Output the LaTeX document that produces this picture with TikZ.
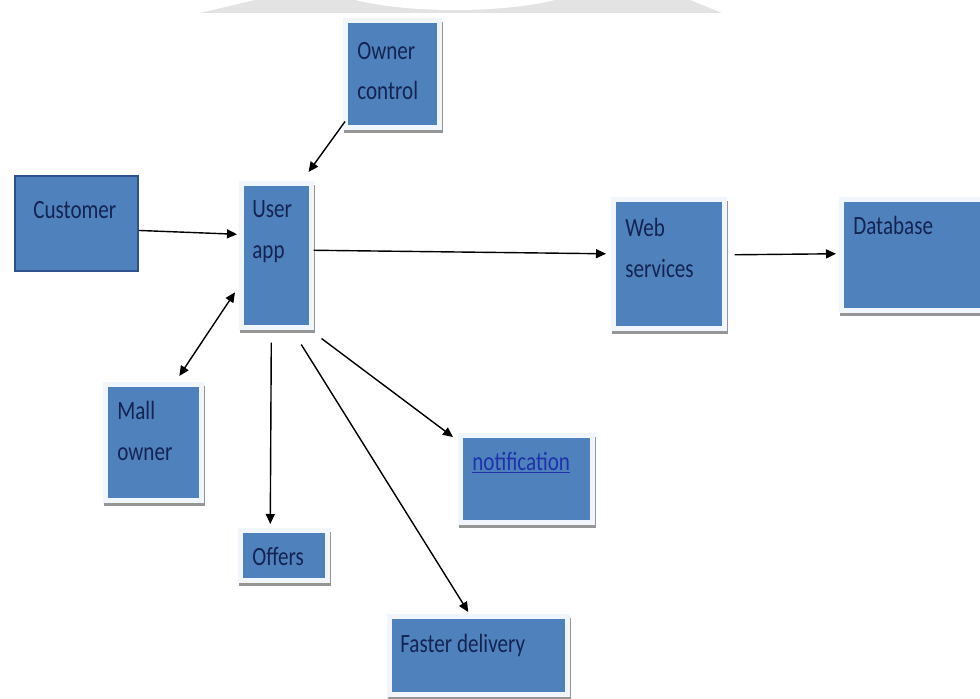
\documentclass[tikz,border=0pt]{standalone}
\usepackage{fontspec}
\setmainfont{Carlito}[FakeStretch=0.8]
\usetikzlibrary{arrows.meta,shadows}
\definecolor{boxblue}{RGB}{79,129,189}
\definecolor{boxline}{RGB}{47,82,143}
\definecolor{boxglow}{RGB}{240,246,252}
\definecolor{boxshade}{RGB}{150,150,150}
\definecolor{boxtext}{RGB}{20,36,82}
\definecolor{linkblue}{RGB}{30,50,170}

\begin{document}
\begin{tikzpicture}[
  x=0.02cm,y=-0.02cm,
  every node/.style={font=\fontsize{15}{23}\selectfont,text=boxtext},
  box/.style={rectangle,anchor=north west,inner sep=0pt,fill=boxblue,draw=boxglow,line width=2.6pt,
    general shadow={fill=boxshade,draw=boxshade,line width=2.6pt,shadow xshift=.8pt,shadow yshift=-2.2pt}},
  plainbox/.style={rectangle,anchor=north west,inner sep=0pt,fill=boxblue,draw=boxline,line width=1.1pt},
  txt/.style={anchor=base west,inner sep=0pt,align=left},
  arrow/.style={-{Triangle[length=2mm,width=1.8mm]},line width=.8pt,black},
  twoway/.style={{Triangle[length=2mm,width=1.8mm]}-{Triangle[length=2mm,width=1.8mm]},line width=.8pt,black}
]
\path[use as bounding box] (0,0) rectangle (980,699);
\fill[white] (0,0) rectangle (980,699);

% Faint watermark at the top edge.
\fill[gray!22] (200,13)--(255,0)--(690,0)--(722,13)--cycle;
\fill[white] (455,-18) ellipse (130 and 28);

% Boxes, placed at their top left corners.
\node[box,minimum width=1.88cm,minimum height=2.14cm] (owner) at (343,18) {};
\node[plainbox,minimum width=2.46cm,minimum height=1.90cm] (cust) at (14,175) {};
\node[box,minimum width=1.40cm,minimum height=2.88cm] (user) at (239,181) {};
\node[box,minimum width=2.22cm,minimum height=2.58cm] (web) at (611,197) {};
\node[box,minimum width=2.92cm,minimum height=2.22cm] (db) at (839,197) {};
\node[box,minimum width=1.92cm,minimum height=2.32cm] (mall) at (103,382) {};
\node[box,minimum width=1.74cm,minimum height=1.00cm] (offers) at (238,528) {};
\node[box,minimum width=2.64cm,minimum height=1.74cm] (notif) at (458,433) {};
\node[box,minimum width=3.56cm,minimum height=1.56cm] (faster) at (387,614) {};

% Texts sit near the top left of each box (base = last line).
\node[txt] (owner-t) at ([shift={(14,82)}]owner.north west) {Owner\\control};
\node[txt] (cust-t) at ([shift={(19,43)}]cust.north west) {Customer};
\node[txt] (user-t) at ([shift={(13,77)}]user.north west) {User\\app};
\node[txt] (web-t) at ([shift={(14,80)}]web.north west) {Web\\services};
\node[txt] (db-t) at ([shift={(14,38)}]db.north west) {Database};
\node[txt] (mall-t) at ([shift={(14,78)}]mall.north west) {Mall\\owner};
\node[txt] (offers-t) at ([shift={(14,37)}]offers.north west) {Offers};
\node[txt,text=linkblue] (notif-t) at ([shift={(14,37)}]notif.north west) {\underline{notification}};
\node[txt] (faster-t) at ([shift={(13,38)}]faster.north west) {Faster delivery};

% Connectors.
\draw[arrow] ([shift={(2,-8)}]owner.south west) -- ([shift={(-5,-9)}]user.north east);
\draw[arrow] ([shift={(0,7)}]cust.east) -- ([shift={(-2,-21)}]user.west);
\draw[twoway] ([shift={(26,-6)}]mall.north) -- ([shift={(-4,37)}]user.west);
\draw[arrow] ([shift={(0,-5)}]user.east) -- ([shift={(-5,-10)}]web.west);
\draw[arrow] ([shift={(8,-9)}]web.east) -- ([shift={(-3,-1)}]db.west);
\draw[arrow] ([shift={(-5,13)}]user.south) -- ([shift={(-13.5,-4)}]offers.north);
\draw[arrow] ([shift={(8,9)}]user.south east) -- ([shift={(-5,4)}]notif.north west);
\draw[arrow] ([shift={(25,15)}]user.south) -- ([shift={(-10,-2)}]faster.north);
\end{tikzpicture}
\end{document}
